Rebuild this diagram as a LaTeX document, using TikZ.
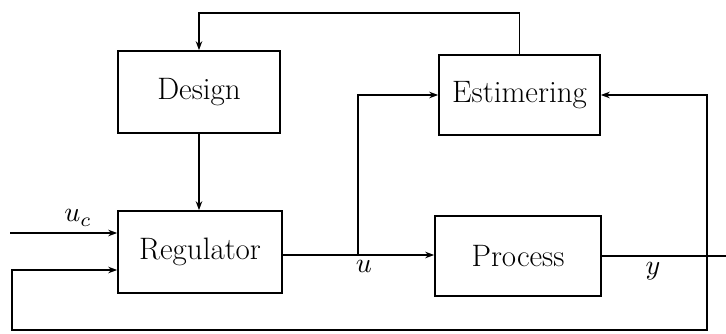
\documentclass[tikz,border=0pt]{standalone}
\usepackage{fontspec}
\usetikzlibrary{arrows.meta}
\begin{document}
\begin{tikzpicture}[x=1pt,y=1pt,
  blk/.style={draw, line width=1.6pt, fill=white, font=\fontsize{31}{36}\selectfont, inner sep=0pt},
  conn/.style={line width=1.6pt},
  arr/.style={conn, -{Stealth[length=9pt,width=6.5pt]}},
  lbl/.style={inner sep=0pt, scale=2.8}]
\useasboundingbox (0,0) rectangle (726,333);
\node[blk, minimum width=162pt, minimum height=82pt] (des) at (199,241) {Design};
\node[blk, minimum width=161pt, minimum height=80pt] (est) at (519.5,238) {Estimering};
\node[blk, minimum width=164pt, minimum height=82pt] (reg) at (200,81) {Regulator};
\node[blk, minimum width=166pt, minimum height=80pt] (proc) at (518,77) {Process};
\coordinate (top) at (199,320);
\coordinate (ucin) at (10,100);
\coordinate (o) at (0,78);
\coordinate (br) at (358,78);
\coordinate (out) at (726,77);
\coordinate (fb) at (707,77);
\coordinate (bl) at (12,3);
\coordinate (fbin) at (0,63);
% top feedback
\draw[arr] (est.north) |- (top) -- (des.north);
\draw[arr] (des.south) -- (des.south |- reg.north);
% u_c
\draw[arr] (ucin) -- (reg.west |- ucin);
\node[lbl] (uclab) at (78,115) {$u_c$};
% u
\draw[arr] (reg.east |- o) -- (proc.west |- o);
\draw[arr] (br) |- (est.west);
\node[lbl] (ulab) at (364,67) {$u$};
% y
\draw[conn] (proc.east) -- (out);
\node[lbl] (ylab) at (653,62) {$y$};
% feedback loops
\draw[arr] (fb) |- (est.east);
\draw[arr] (fb) |- (bl) |- (reg.west |- fbin);
\end{tikzpicture}
\end{document}
